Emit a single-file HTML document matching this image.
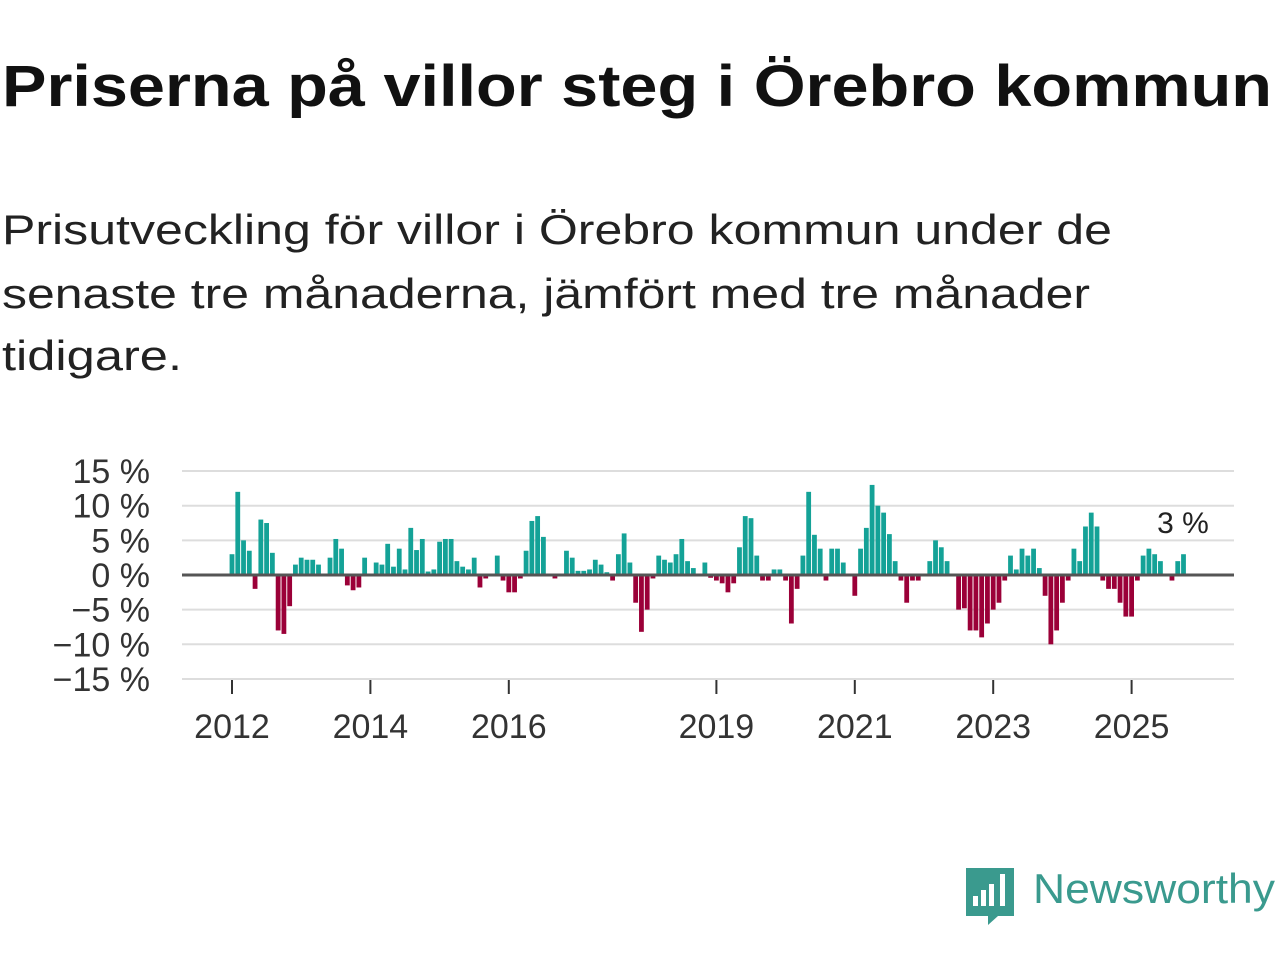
<!DOCTYPE html>
<html><head><meta charset="utf-8"><style>
body{margin:0;background:#fff;width:1280px;height:960px;overflow:hidden}
svg text{font-family:"Liberation Sans",sans-serif}
</style></head><body>
<svg id="c" width="1280" height="960">
<text x="2" y="106" font-size="58" font-weight="bold" fill="#111" textLength="1270" lengthAdjust="spacingAndGlyphs">Priserna på villor steg i Örebro kommun</text>
<g font-size="42" fill="#222">
<text x="2" y="244" textLength="1110" lengthAdjust="spacingAndGlyphs">Prisutveckling för villor i Örebro kommun under de</text>
<text x="2" y="308" textLength="1088" lengthAdjust="spacingAndGlyphs">senaste tre månaderna, jämfört med tre månader</text>
<text x="2" y="370" textLength="180" lengthAdjust="spacingAndGlyphs">tidigare.</text>
</g>
<g id="grid"></g><g id="bars"></g><g id="axes"></g>
<text x="1183" y="533" font-size="30" fill="#222" text-anchor="middle">3 %</text>
<g>
<path d="M966 868h48v48h-16l-10 9v-9h-22z" fill="#3a9a8e"/>
<rect x="973" y="896" width="5" height="10" fill="#fff"/><rect x="981" y="890" width="5" height="16" fill="#fff"/><rect x="989" y="884" width="5" height="22" fill="#fff"/><rect x="1000" y="874" width="5" height="32" fill="#fff"/>
<text x="1033" y="903" font-size="42" fill="#3a9a8e" textLength="242" lengthAdjust="spacingAndGlyphs">Newsworthy</text>
</g>
</svg>
<script>
const values=[3,12,5,3.5,-2,8,7.5,3.2,-8,-8.5,-4.5,1.5,2.5,2.2,2.2,1.5,0.2,2.5,5.2,3.8,-1.5,-2.2,-1.8,2.5,0,1.8,1.5,4.5,1.2,3.8,0.8,6.8,3.6,5.2,0.5,0.8,4.8,5.2,5.2,2,1.2,0.8,2.5,-1.8,-0.5,0,2.8,-0.8,-2.5,-2.5,-0.5,3.5,7.8,8.5,5.5,0.2,-0.5,0.2,3.5,2.5,0.6,0.6,0.8,2.2,1.5,0.4,-0.8,3,6,1.8,-4,-8.2,-5,-0.5,2.8,2.2,1.8,3,5.2,2,1,0.2,1.8,-0.4,-0.8,-1.2,-2.5,-1.2,4,8.5,8.2,2.8,-0.8,-0.8,0.8,0.8,-0.8,-7,-2,2.8,12,5.8,3.8,-0.8,3.8,3.8,1.8,0,-3,3.8,6.8,13,10,9,5.9,2,-0.8,-4,-0.8,-0.8,0,2,5,4,2,0,-5,-4.8,-8,-8,-9,-7,-5,-4,-0.8,2.8,0.8,3.8,2.8,3.8,1,-3,-10,-8,-4,-0.8,3.8,2,7,9,7,-0.8,-2,-2,-4,-6,-6,-0.8,2.8,3.8,3,2,0,-0.8,2,3];
const startYear=2012;
const yTicks=[15,10,5,0,-5,-10,-15];
const yTickLabels=["15 %","10 %","5 %","0 %","−5 %","−10 %","−15 %"];
const xTickYears=[2012,2014,2016,2019,2021,2023,2025];
const NS="http://www.w3.org/2000/svg";
const y=v=>575-v*6.93;
const x=m=>232+m*(69.2/12);
function mk(t,a,p){const e=document.createElementNS(NS,t);for(const k in a)e.setAttribute(k,a[k]);p.appendChild(e);return e;}
const G=document.getElementById('grid'),B=document.getElementById('bars'),A=document.getElementById('axes');
yTicks.forEach((v,i)=>{
 if(v!==0){const l=mk('line',{x1:182,x2:1234,y1:y(v),y2:y(v),stroke:'#ddd','stroke-width':2},G);
 
 }
 const t=mk('text',{x:150,y:y(v)+12,'font-size':34,fill:'#333','text-anchor':'end'},A);
 t.textContent=yTickLabels[i];
 
 
});
values.forEach((v,i)=>{
 const r=mk('rect',{x:x(i)-2.4,width:4.8,y:Math.min(y(v),y(0)),height:Math.abs(y(v)-y(0)),fill:v>=0?'#14a297':'#9b0038'},B);
 
 
});
const z=mk('line',{x1:182,x2:1234,y1:y(0),y2:y(0),stroke:'#555','stroke-width':3},A);


xTickYears.forEach(yr=>{
 const xx=x((yr-startYear)*12);
 const tk=mk('line',{x1:xx,x2:xx,y1:680,y2:694,stroke:'#333','stroke-width':2},A);
 
 
 const t=mk('text',{x:xx,y:738,'font-size':34,fill:'#333','text-anchor':'middle'},A);
 t.textContent=yr;
 
 
});
</script>
</body></html>
